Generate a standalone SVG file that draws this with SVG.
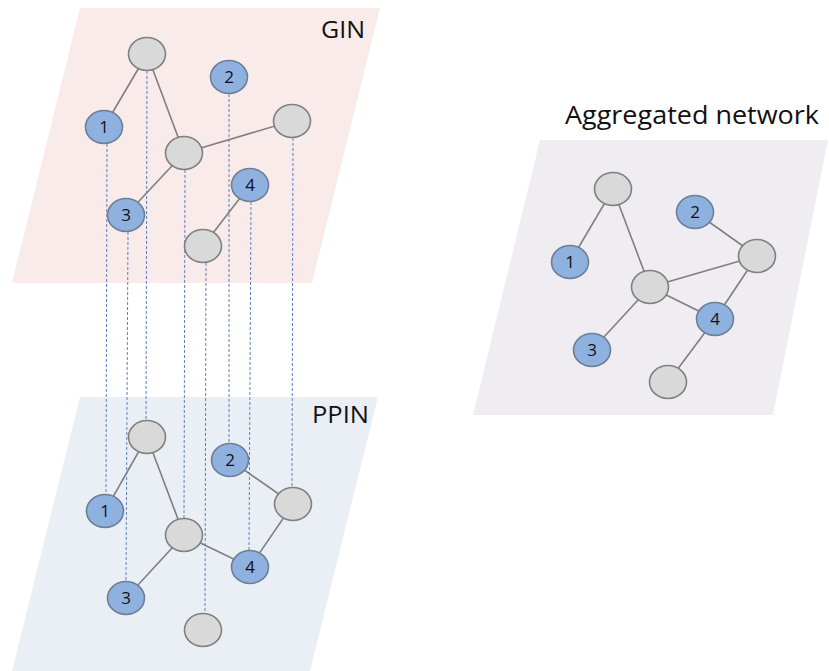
<svg xmlns="http://www.w3.org/2000/svg" width="829" height="671" viewBox="0 0 829 671">
<style>
.edge{stroke:#7F7F7F;stroke-width:1.6;fill:none}
.dash{stroke:#5B7FC0;stroke-width:1;stroke-dasharray:3,2;fill:none}
.g{fill:#D9D9D9;stroke:#808080;stroke-width:1.6}
.b{fill:#8EB1E0;stroke:#6D7F95;stroke-width:1.6}
.num{font-family:"Open Sans","Liberation Sans",sans-serif;font-size:17px;fill:#111;text-anchor:middle}
.lbl{font-family:"Open Sans","Liberation Sans",sans-serif;fill:#111}
</style>
<rect width="829" height="671" fill="#FFFFFF"/>
<g id="panels">
<polygon points="80,8 380,8 312,283 12,283" fill="#F8EBEA"/>
<polygon points="80,397 378,397 310,671 12,671" fill="#EAEFF6"/>
<polygon points="540,140 828,140 773,415 473,415" fill="#EFEDF2"/>
</g>
<g id="connectors">
<line class="edge" x1="147" y1="54" x2="104" y2="127"/>
<line class="edge" x1="147" y1="54" x2="184" y2="153"/>
<line class="edge" x1="184" y1="153" x2="292" y2="121"/>
<line class="edge" x1="184" y1="153" x2="126" y2="215"/>
<line class="edge" x1="250" y1="185" x2="203" y2="246"/>
<line class="edge" x1="147" y1="437" x2="105" y2="511"/>
<line class="edge" x1="147" y1="437" x2="184" y2="535"/>
<line class="edge" x1="230" y1="460" x2="293" y2="504"/>
<line class="edge" x1="293" y1="504" x2="250" y2="567"/>
<line class="edge" x1="184" y1="535" x2="250" y2="567"/>
<line class="edge" x1="184" y1="535" x2="126" y2="598"/>
<line class="edge" x1="613" y1="189" x2="570" y2="262"/>
<line class="edge" x1="613" y1="189" x2="650" y2="287"/>
<line class="edge" x1="695" y1="212" x2="757" y2="256"/>
<line class="edge" x1="650" y1="287" x2="757" y2="256"/>
<line class="edge" x1="650" y1="287" x2="715" y2="319"/>
<line class="edge" x1="757" y1="256" x2="715" y2="319"/>
<line class="edge" x1="650" y1="287" x2="592" y2="350"/>
<line class="edge" x1="715" y1="319" x2="668" y2="382"/>
<line class="dash" x1="107" y1="144" x2="106" y2="494"/>
<line class="dash" x1="128" y1="232" x2="126" y2="581"/>
<line class="dash" x1="147" y1="71" x2="146" y2="420"/>
<line class="dash" x1="185" y1="170" x2="184" y2="518"/>
<line class="dash" x1="206" y1="263" x2="205" y2="613"/>
<line class="dash" x1="229" y1="94" x2="229" y2="443"/>
<line class="dash" x1="251" y1="202" x2="249" y2="550"/>
<line class="dash" x1="293" y1="138" x2="292" y2="487"/>
</g>
<g id="gin-nodes">
<g id="gin-top"><ellipse class="g" cx="147" cy="54" rx="18.5" ry="16.5"/></g>
<g id="gin-2"><ellipse class="b" cx="229" cy="77" rx="18.5" ry="16.5"/><text class="num" x="229" y="83">2</text></g>
<g id="gin-1"><ellipse class="b" cx="104" cy="127" rx="18.5" ry="16.5"/><text class="num" x="104" y="133">1</text></g>
<g id="gin-right"><ellipse class="g" cx="292" cy="121" rx="18.5" ry="16.5"/></g>
<g id="gin-center"><ellipse class="g" cx="184" cy="153" rx="18.5" ry="16.5"/></g>
<g id="gin-4"><ellipse class="b" cx="250" cy="185" rx="18.5" ry="16.5"/><text class="num" x="250" y="191">4</text></g>
<g id="gin-3"><ellipse class="b" cx="126" cy="215" rx="18.5" ry="16.5"/><text class="num" x="126" y="221">3</text></g>
<g id="gin-bottom"><ellipse class="g" cx="203" cy="246" rx="18.5" ry="16.5"/></g>
</g>
<g id="ppin-nodes">
<g id="ppin-top"><ellipse class="g" cx="147" cy="437" rx="18.5" ry="16.5"/></g>
<g id="ppin-2"><ellipse class="b" cx="230" cy="460" rx="18.5" ry="16.5"/><text class="num" x="230" y="466">2</text></g>
<g id="ppin-1"><ellipse class="b" cx="105" cy="511" rx="18.5" ry="16.5"/><text class="num" x="105" y="517">1</text></g>
<g id="ppin-right"><ellipse class="g" cx="293" cy="504" rx="18.5" ry="16.5"/></g>
<g id="ppin-center"><ellipse class="g" cx="184" cy="535" rx="18.5" ry="16.5"/></g>
<g id="ppin-4"><ellipse class="b" cx="250" cy="567" rx="18.5" ry="16.5"/><text class="num" x="250" y="573">4</text></g>
<g id="ppin-3"><ellipse class="b" cx="126" cy="598" rx="18.5" ry="16.5"/><text class="num" x="126" y="604">3</text></g>
<g id="ppin-bottom"><ellipse class="g" cx="203" cy="630" rx="18.5" ry="16.5"/></g>
</g>
<g id="agg-nodes">
<g id="agg-top"><ellipse class="g" cx="613" cy="189" rx="18.5" ry="16.5"/></g>
<g id="agg-2"><ellipse class="b" cx="695" cy="212" rx="18.5" ry="16.5"/><text class="num" x="695" y="218">2</text></g>
<g id="agg-1"><ellipse class="b" cx="570" cy="262" rx="18.5" ry="16.5"/><text class="num" x="570" y="268">1</text></g>
<g id="agg-right"><ellipse class="g" cx="757" cy="256" rx="18.5" ry="16.5"/></g>
<g id="agg-center"><ellipse class="g" cx="650" cy="287" rx="18.5" ry="16.5"/></g>
<g id="agg-4"><ellipse class="b" cx="715" cy="319" rx="18.5" ry="16.5"/><text class="num" x="715" y="325">4</text></g>
<g id="agg-3"><ellipse class="b" cx="592" cy="350" rx="18.5" ry="16.5"/><text class="num" x="592" y="356">3</text></g>
<g id="agg-bottom"><ellipse class="g" cx="668" cy="382" rx="18.5" ry="16.5"/></g>
</g>
<g id="labels">
<text class="lbl" x="321" y="38" font-size="23" textLength="44" lengthAdjust="spacingAndGlyphs">GIN</text>
<text class="lbl" x="312" y="423" font-size="23" textLength="57" lengthAdjust="spacingAndGlyphs">PPIN</text>
<text class="lbl" x="565" y="124" font-size="26" textLength="254" lengthAdjust="spacingAndGlyphs">Aggregated network</text>
</g>
</svg>
